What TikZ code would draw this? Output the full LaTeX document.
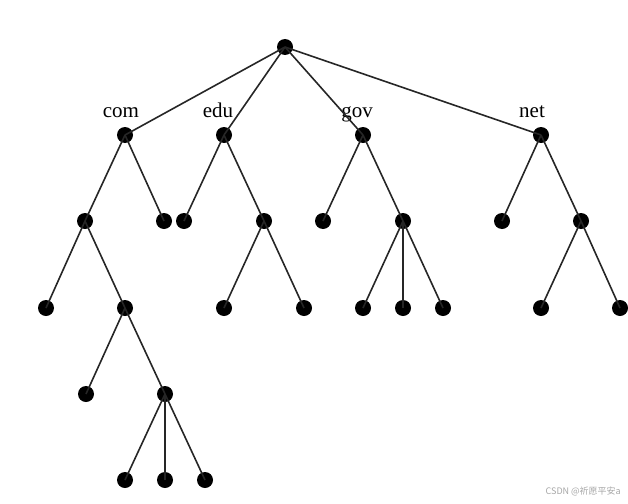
\documentclass[tikz,border=0pt]{standalone}
\usepackage{fontspec}
\setmainfont{Liberation Serif}
\newfontfamily\cjk{Noto Sans CJK SC}
\begin{document}
\begin{tikzpicture}[x=1pt,y=-1pt,
  dot/.style={circle,fill=black,inner sep=0pt,minimum size=16pt},
  edge/.style={line width=1.6pt,black!85},
  lbl/.style={font=\fontsize{21}{21}\selectfont,inner sep=0pt,anchor=base}]
\useasboundingbox (0,0) rectangle (628,503);
% root
\node[dot] (r) at (285,47) {};
% level 1
\node[dot] (com) at (125,135) {};
\node[dot] (edu) at (224,135) {};
\node[dot] (gov) at (363,135) {};
\node[dot] (net) at (541,135) {};
\node[lbl] (lcom) at (121,117) {com};
\node[lbl] (ledu) at (218,117) {edu};
\node[lbl] (lgov) at (357,117) {gov};
\node[lbl] (lnet) at (532,117) {net};
% level 2
\node[dot] (c1) at (85,221) {};
\node[dot] (c2) at (164,221) {};
\node[dot] (e1) at (184,221) {};
\node[dot] (e2) at (264,221) {};
\node[dot] (g1) at (323,221) {};
\node[dot] (g2) at (403,221) {};
\node[dot] (n1) at (502,221) {};
\node[dot] (n2) at (581,221) {};
% level 3
\node[dot] (c11) at (46,308) {};
\node[dot] (c12) at (125,308) {};
\node[dot] (e21) at (224,308) {};
\node[dot] (e22) at (304,308) {};
\node[dot] (g21) at (363,308) {};
\node[dot] (g22) at (403,308) {};
\node[dot] (g23) at (443,308) {};
\node[dot] (n21) at (541,308) {};
\node[dot] (n22) at (620,308) {};
% level 4
\node[dot] (c121) at (86,394) {};
\node[dot] (c122) at (165,394) {};
% level 5
\node[dot] (d1) at (125,480) {};
\node[dot] (d2) at (165,480) {};
\node[dot] (d3) at (205,480) {};
% edges
\foreach \a/\b in {r/com,r/edu,r/gov,r/net,
  com/c1,com/c2,edu/e1,edu/e2,gov/g1,gov/g2,net/n1,net/n2,
  c1/c11,c1/c12,e2/e21,e2/e22,g2/g21,g2/g22,g2/g23,n2/n21,n2/n22,
  c12/c121,c12/c122,c122/d1,c122/d2,c122/d3}
  \draw[edge] (\a.center) -- (\b.center);
% watermark
\node[text=black!35,font=\cjk\fontsize{9}{9}\selectfont,anchor=east,inner sep=0pt] (wm) at (621,491) {CSDN @祈愿平安a};
\end{tikzpicture}
\end{document}
